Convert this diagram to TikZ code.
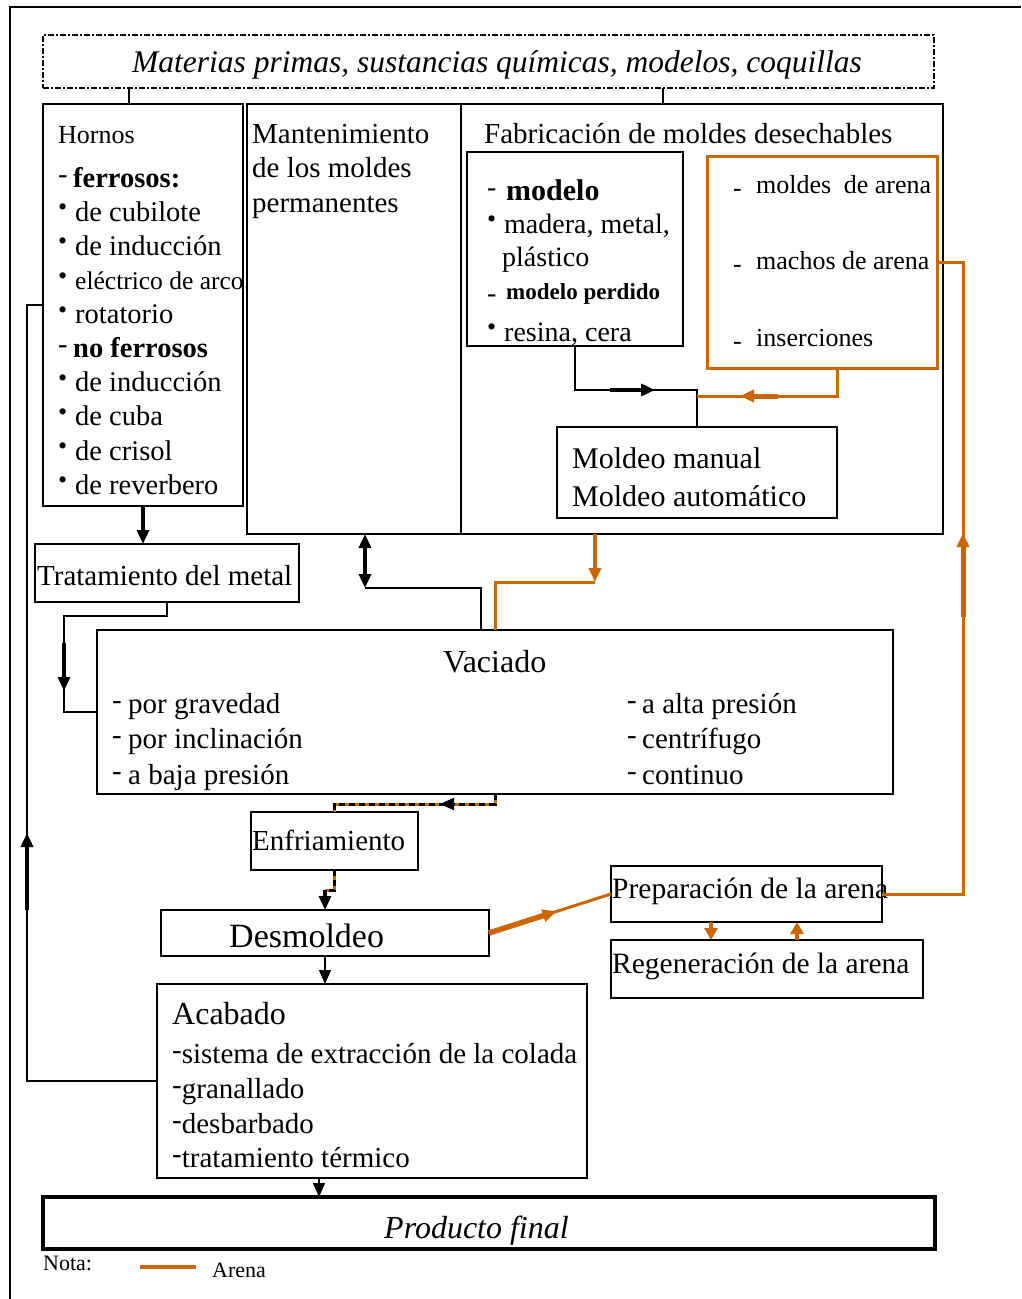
\documentclass[tikz,border=0pt]{standalone}
\usepackage{fontspec}
\setmainfont{Liberation Serif}
\usetikzlibrary{arrows.meta,decorations.markings}
\definecolor{arenacolor}{RGB}{204, 102, 0}

\newcommand{\tam}[1]{\fontsize{#1}{#1}\selectfont}
\newcommand{\alto}{\rule{0pt}{23pt}}
\newcommand{\bala}{\makebox[17pt][l]{\raisebox{5.5pt}{\fontsize{26}{26}\selectfont •}}}
\newcommand{\guion}[2]{\makebox[#1][l]{\raisebox{#2}{-}}}

\begin{document}
\begin{tikzpicture}[
    x=1pt, y=-1pt,
    caja/.style 2 args={draw, line width=1.4pt, anchor=north west, inner sep=0pt, outer sep=0pt, minimum width=#1, minimum height=#2},
    cajaarena/.style 2 args={caja={#1}{#2}, draw=arenacolor, line width=3pt},
    texto/.style={anchor=base west, inner sep=0pt},
    lista/.style={anchor=north west, inner sep=0pt, align=left},
    link/.style={line width=1.4pt},
    arena/.style={color=arenacolor, line width=3pt},
    mezcla/.style={line width=3pt, dash pattern=on 6pt off 4pt, preaction={draw=arenacolor, solid, line width=3pt}},
    flecha/.style={line width=3.5pt, -{Triangle[length=14pt, width=12pt]}},
    midarrow/.style n args={3}{postaction={decorate}, decoration={markings, mark=at position #1 with {\draw[solid, line width=#3, -{Triangle[length=14pt, width=12pt]}] (-#2,0pt) -- (0pt,0pt);}}}
]
\useasboundingbox (0,0) rectangle (1021,1299);

% Frame
\draw[link] (10,1299) |- (1021,7);

% Inputs
\node[caja={891pt}{53pt}, line width=2.5pt, dash pattern=on 6pt off 2pt on 2pt off 2pt] (materias) at (43,35) {};
\node[anchor=base, inner sep=0pt, font=\tam{31.5}\itshape] (materias-txt) at (497,72) {Materias primas, sustancias químicas, modelos, coquillas};

% Furnaces
\node[caja={200pt}{402pt}] (hornos) at (43,104) {};
\node[lista, font=\fontsize{28.5}{34.1}\selectfont] (hornos-txt) at (58,120) {
    \alto{\tam{26}Hornos}\\[9.9pt]
    \guion{15pt}{4pt}\textbf{ferrosos:}\\
    \bala de cubilote\\
    \bala de inducción\\
    \bala{\tam{25.5}eléctrico de arco}\\
    \bala rotatorio\\
    \guion{15pt}{4pt}\textbf{no ferrosos}\\
    \bala de inducción\\
    \bala de cuba\\
    \bala de crisol\\
    \bala de reverbero
};

% Moulds
\node[caja={214pt}{430pt}] (mant) at (247,104) {};
\node[lista, font=\fontsize{29}{34.5}\selectfont] (mant-txt) at (252,120) {\alto Mantenimiento\\de los moldes\\permanentes};

\node[caja={482pt}{430pt}] (fabr) at (461,104) {};
\node[texto, font=\tam{29}] (fabr-txt) at (484,143) {Fabricación de moldes desechables};

\node[caja={216pt}{194pt}] (modelo) at (467,152) {};
\node[lista, font=\fontsize{28}{33}\selectfont] (modelo-txt) at (487,177) {
    \alto\guion{19pt}{4pt}{\tam{30}\bfseries modelo}\\
    \bala madera, metal,\\
    \hspace*{15pt}plástico\\
    \guion{19pt}{-3pt}{\tam{23}\bfseries modelo perdido}\\[9pt]
    \bala resina, cera
};

\node[cajaarena={230pt}{212pt}] (machos) at (707,156) {};
\node[lista, font=\fontsize{26}{76.5}\selectfont] (machos-txt) at (733,170) {
    \alto\guion{23pt}{-3pt}moldes\hspace{6pt} de arena\\
    \guion{23pt}{-3pt}machos de arena\\
    \guion{23pt}{-3pt}inserciones
};

\node[caja={280pt}{91pt}] (moldeo) at (557,427) {};
\node[lista, font=\fontsize{30}{38}\selectfont] (moldeo-txt) at (572,445) {\alto Moldeo manual\\Moldeo automático};

% Metal and casting
\node[caja={264pt}{58pt}] (trat) at (35,544) {};
\node[texto, font=\tam{29}] (trat-txt) at (37,585) {Tratamiento del metal};

\node[caja={796pt}{164pt}] (vaciado) at (97,630) {};
\node[texto, font=\tam{32}] (vaciado-tit) at (443,672) {Vaciado};
\node[lista, font=\fontsize{29}{35.5}\selectfont] (vaciado-izq) at (112,690) {
    \alto\guion{16pt}{4pt}por gravedad\\
    \guion{16pt}{4pt}por inclinación\\
    \guion{16pt}{4pt}a baja presión
};
\node[lista, font=\fontsize{29}{35.5}\selectfont] (vaciado-der) at (627,690) {
    \alto\guion{15pt}{4pt}a alta presión\\
    \guion{15pt}{4pt}centrífugo\\
    \guion{15pt}{4pt}continuo
};

% After casting
\node[caja={167pt}{58pt}] (enfr) at (251,812) {};
\node[texto, font=\tam{29}] (enfr-txt) at (252,850) {Enfriamiento};

\node[caja={328pt}{46pt}] (desm) at (161,910) {};
\node[texto, font=\tam{34}] (desm-txt) at (229,947) {Desmoldeo};

\node[caja={430pt}{194pt}] (acab) at (157,984) {};
\node[texto, font=\tam{32}] (acab-tit) at (172,1024) {Acabado};
\node[lista, font=\fontsize{29}{34.9}\selectfont] (acab-txt) at (172,1040) {
    \alto\raisebox{4pt}{-}sistema de extracción de la colada\\
    \raisebox{4pt}{-}granallado\\
    \raisebox{4pt}{-}desbarbado\\
    \raisebox{4pt}{-}tratamiento térmico
};

\node[caja={892pt}{52pt}, line width=3.5pt] (producto) at (43,1197) {};
\node[texto, font=\tam{32}\itshape] (producto-txt) at (384,1238) {Producto final};

% Sand
\node[caja={271pt}{56pt}] (prep) at (611,866) {};
\node[texto, font=\tam{29.5}] (prep-txt) at (612,898) {Preparación de la arena};
\node[caja={312pt}{58pt}] (regen) at (611,940) {};
\node[texto, font=\tam{29.5}] (regen-txt) at (612,973) {Regeneración de la arena};

% Bend points
\coordinate (mh) at (129,0);
\coordinate (mf) at (663,0);
\coordinate (tv) at (64,616);
\coordinate (mv) at (365,588);
\coordinate (vm) at (481,0);
\coordinate (fv) at (595,582);
\coordinate (vf) at (495,0);
\coordinate (am) at (837,396);
\coordinate (pa) at (963,300);
\coordinate (pr1) at (711,0);
\coordinate (pr2) at (797,0);
\coordinate (ve) at (495,804);
\coordinate (ed) at (325,890);
\coordinate (ap) at (319,0);
\coordinate (ah) at (27,700);

% Black flow
\draw[link] (mh |- materias.south) -- (mh |- hornos.north);
\draw[link] (mf |- materias.south) -- (mf |- fabr.north);
\draw[flecha] (hornos.south) -- (hornos.south |- trat.north);
\draw[link, midarrow={192pt}{48pt}{3.5pt}] (trat.south) |- (tv) |- (vaciado.west);
\draw[link] (vm |- vaciado.north) |- (mv);
\draw[line width=3.5pt, {Triangle[length=14pt, width=12pt]}-{Triangle[length=14pt, width=12pt]}] (mv) -- (mv |- mant.south);
\draw[link, midarrow={124pt}{45pt}{3.5pt}] (modelo.south) -- ++(0,44) -| (moldeo.north);
\draw[link, -{Triangle[length=14pt, width=12pt]}] (desm.south) -- (desm.south |- acab.north);
\draw[link, -{Triangle[length=14pt, width=12pt]}] (ap |- acab.south) -- (ap |- producto.north);
\draw[link, midarrow={378pt}{77pt}{3.5pt}] (acab.west) -| (ah) |- (hornos.west);

% Sand flow
\draw[arena] (fv) -| (vf |- vaciado.north);
\draw[flecha, color=arenacolor, line width=4.5pt] (fv |- fabr.south) -- (fv);
\draw[arena, midarrow={125pt}{38pt}{5pt}] (am |- machos.south) -- (am) -- (am -| moldeo.north);
\draw[arena, midarrow={442pt}{84pt}{5pt}] (prep.east) -| (pa) |- (machos.east);
\draw[arena, midarrow={71pt}{71pt}{5.5pt}] (desm.east) -- (prep.west);
\draw[arena, line width=4pt, -{Triangle[length=12pt, width=13pt]}] (pr1 |- prep.south) -- (pr1 |- regen.north);
\draw[arena, line width=4pt, -{Triangle[length=12pt, width=13pt]}] (pr2 |- regen.north) -- (pr2 |- prep.south);

% Mixed flow
\draw[mezcla, midarrow={65pt}{6pt}{2pt}] (ve |- vaciado.south) -- (ve) -| (enfr.north);
\draw[mezcla] (enfr.south) |- (ed);
\draw[flecha] (ed) -- (desm.north);

% Note
\node[texto, font=\tam{22}] (nota) at (43,1270) {Nota:};
\draw[arena, line width=3.5pt] (140,1267) -- (196,1267);
\node[texto, font=\tam{22}] (nota-arena) at (212,1277) {Arena};

\end{tikzpicture}
\end{document}
